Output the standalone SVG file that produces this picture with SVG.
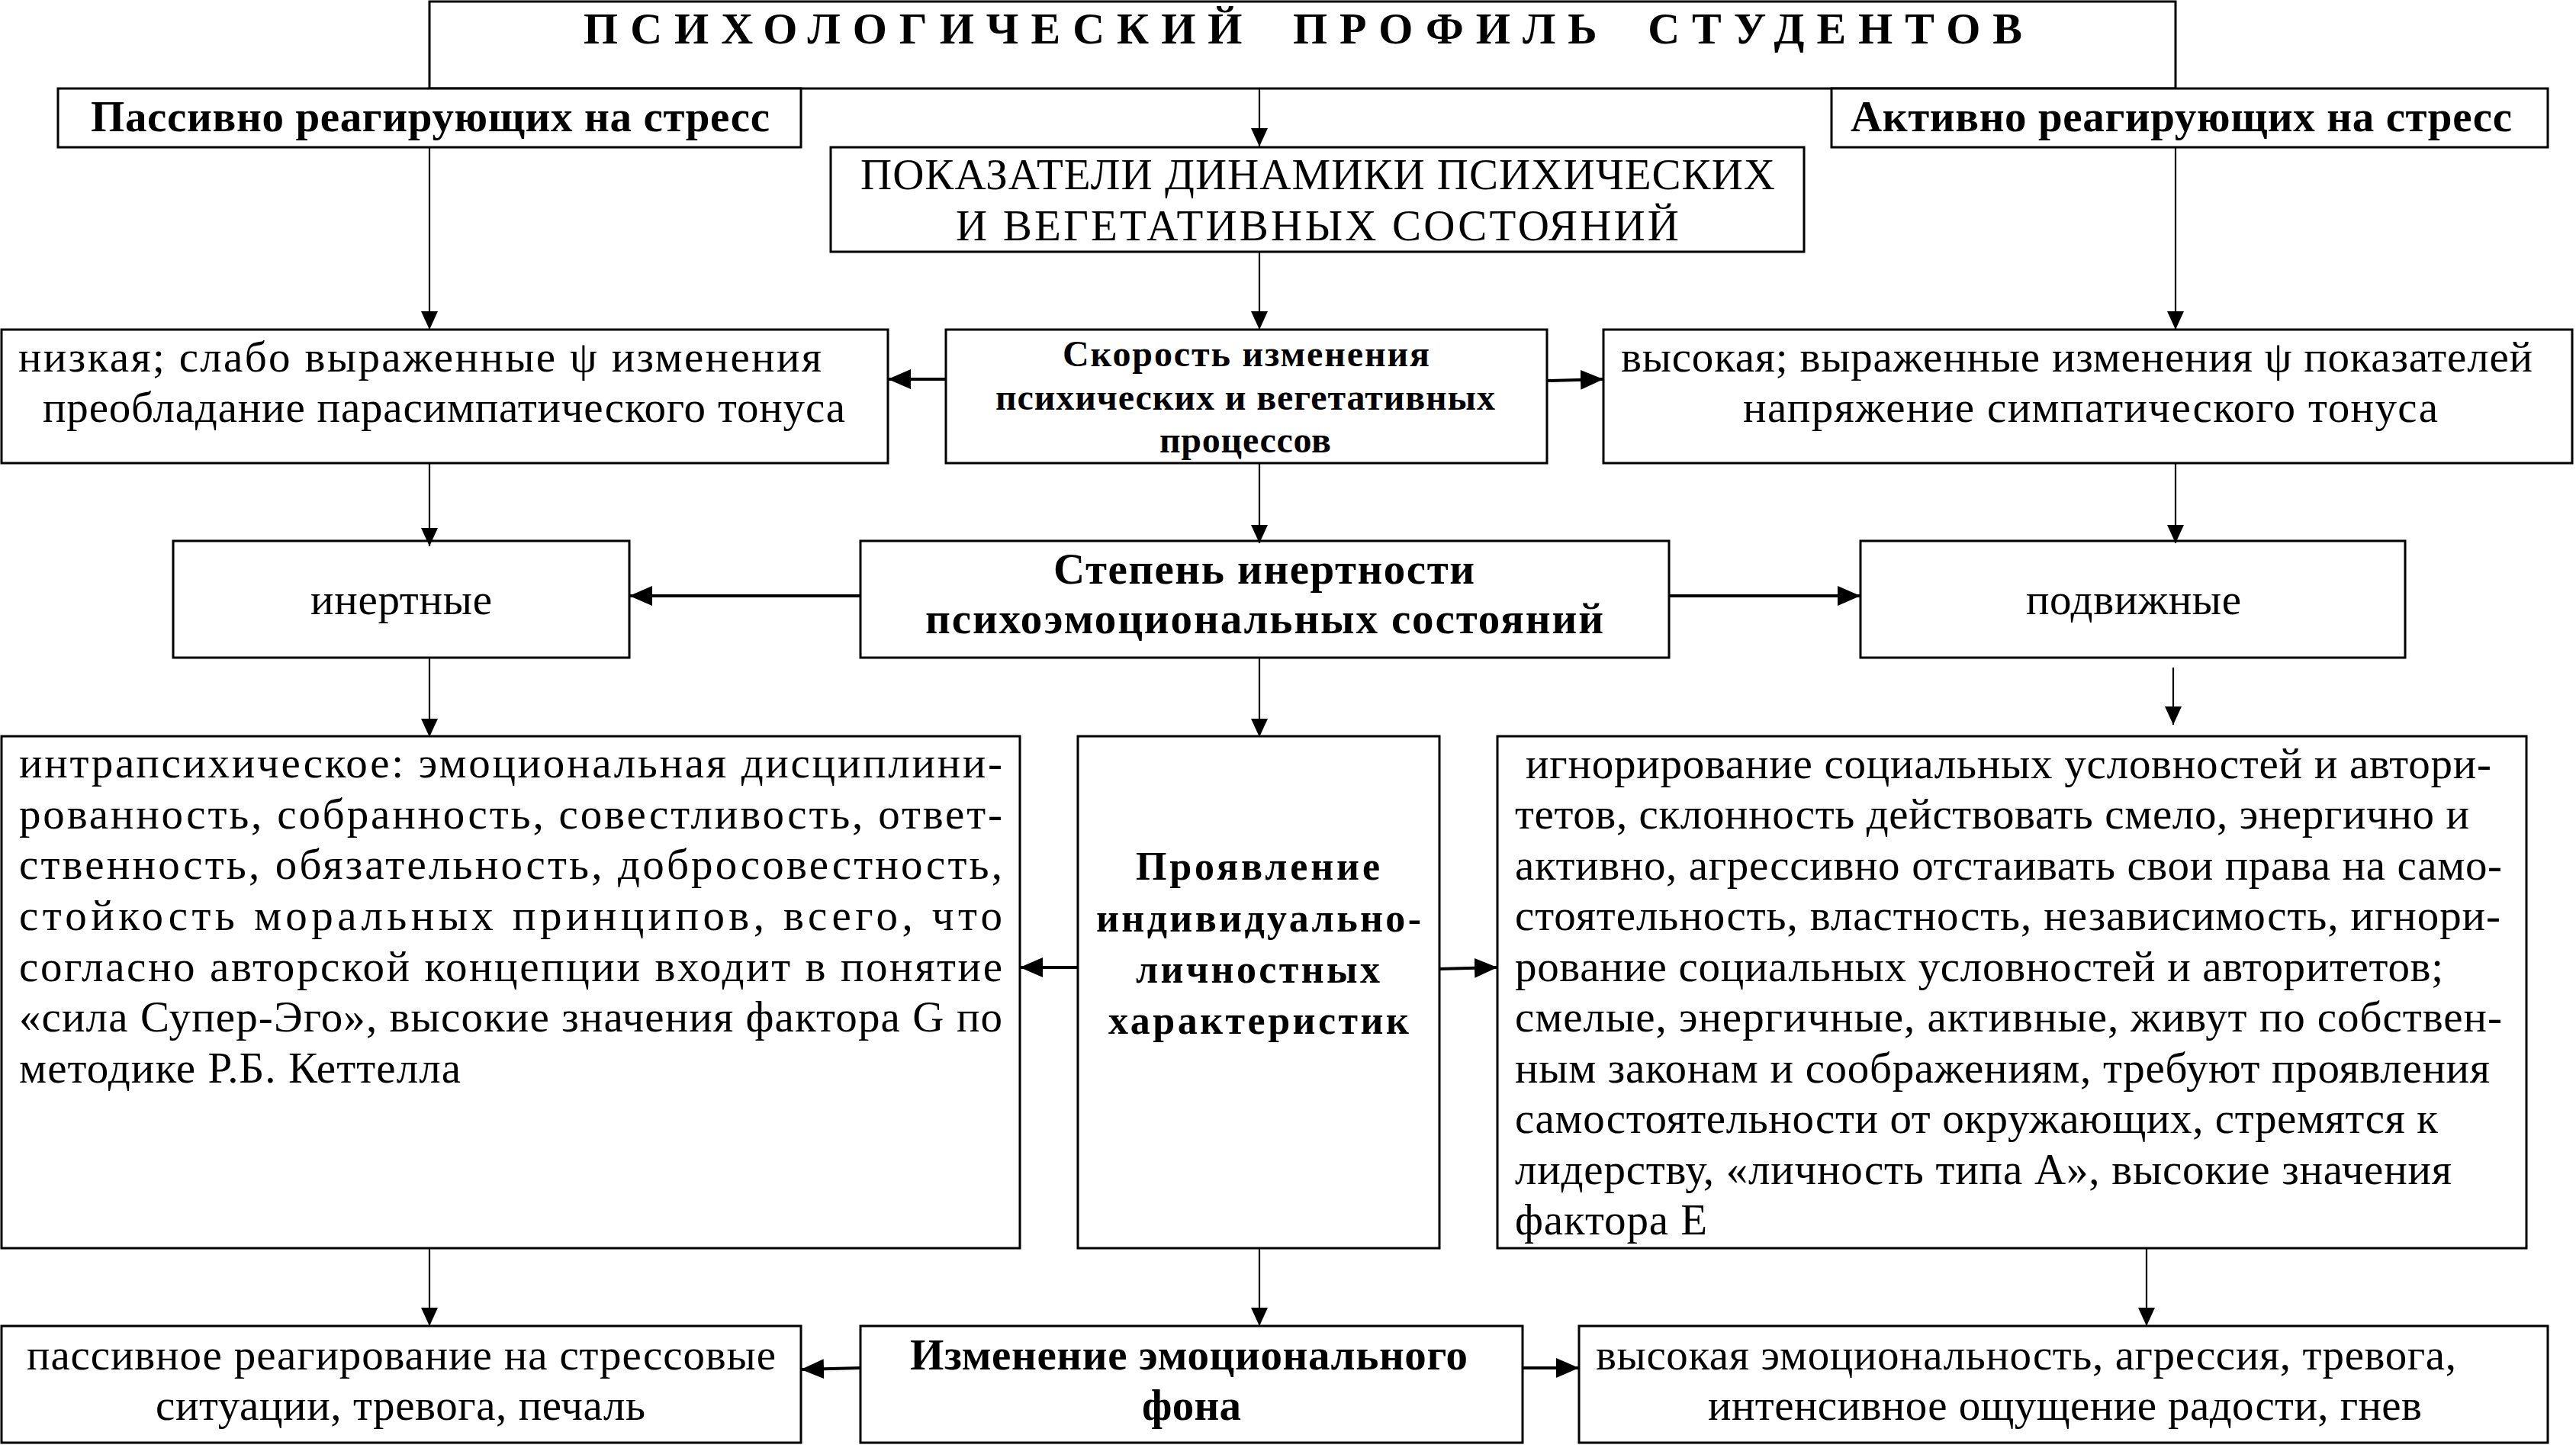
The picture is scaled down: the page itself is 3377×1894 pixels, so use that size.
<svg xmlns="http://www.w3.org/2000/svg" width="3377" height="1894" viewBox="0 0 3377 1894">
<style>
.box{fill:#fff;stroke:#000;stroke-width:3}
text{font-family:"Liberation Serif","Times New Roman",serif;fill:#000}
.r{font-size:57px}
.b{font-size:57px;font-weight:bold}
.s{font-size:48px;font-weight:bold}
.m{font-size:52px;font-weight:bold}
.t{font-size:58px;font-weight:bold;word-spacing:20px}
.c{fill:none;stroke:#000;stroke-width:2.2}
.k{fill:none;stroke:#000;stroke-width:4}
</style>
<defs>
<marker id="ah" markerUnits="userSpaceOnUse" markerWidth="24" markerHeight="22" refX="24" refY="11" orient="auto"><path d="M0,0 L24,11 L0,22 z" fill="#000"/></marker>
<marker id="ahb" markerUnits="userSpaceOnUse" markerWidth="30" markerHeight="26" refX="30" refY="13" orient="auto"><path d="M0,0 L30,13 L0,26 z" fill="#000"/></marker>
</defs>
<rect width="3377" height="1894" fill="#fff"/>
<g id="title"><rect class="box" x="563" y="2" width="2289" height="114"/><text class="t" x="765" y="57" textLength="1886" lengthAdjust="spacing">ПСИХОЛОГИЧЕСКИЙ  ПРОФИЛЬ СТУДЕНТОВ</text></g>
<g id="passive"><rect class="box" x="76" y="116" width="974" height="77"/><text class="b" x="119" y="172" textLength="890" lengthAdjust="spacing">Пассивно реагирующих на стресс</text></g>
<g id="active"><rect class="box" x="2401" y="116" width="939" height="77"/><text class="b" x="2426" y="172" textLength="867" lengthAdjust="spacing">Активно реагирующих на стресс</text></g>
<g id="indicators"><rect class="box" x="1089" y="193" width="1276" height="137"/><text class="r" x="1128" y="248" textLength="1199" lengthAdjust="spacing">ПОКАЗАТЕЛИ ДИНАМИКИ ПСИХИЧЕСКИХ</text><text class="r" x="1253" y="315" textLength="948" lengthAdjust="spacing">И  ВЕГЕТАТИВНЫХ  СОСТОЯНИЙ</text></g>
<g id="low"><rect class="box" x="2" y="432" width="1162" height="175"/><text class="r" x="24" y="487" textLength="1053" lengthAdjust="spacing">низкая;  слабо  выраженные  ψ  изменения</text><text class="r" x="56" y="553" textLength="1052" lengthAdjust="spacing">преобладание парасимпатического тонуса</text></g>
<g id="speed"><rect class="box" x="1240" y="432" width="788" height="175"/><text class="s" x="1393" y="480" textLength="481" lengthAdjust="spacing">Скорость  изменения</text><text class="s" x="1305" y="537" textLength="655" lengthAdjust="spacing">психических и вегетативных</text><text class="s" x="1520" y="593" textLength="225" lengthAdjust="spacing">процессов</text></g>
<g id="high"><rect class="box" x="2102" y="432" width="1270" height="175"/><text class="r" x="2125" y="487" textLength="1195" lengthAdjust="spacing">высокая; выраженные изменения ψ показателей</text><text class="r" x="2285" y="553" textLength="911" lengthAdjust="spacing">напряжение  симпатического тонуса</text></g>
<g id="inert"><rect class="box" x="227" y="709" width="598" height="153"/><text class="r" x="407" y="805" textLength="238" lengthAdjust="spacing">инертные</text></g>
<g id="degree"><rect class="box" x="1128" y="709" width="1060" height="153"/><text class="b" x="1381" y="765" textLength="552" lengthAdjust="spacing">Степень  инертности</text><text class="b" x="1213" y="830" textLength="889" lengthAdjust="spacing">психоэмоциональных   состояний</text></g>
<g id="mobile"><rect class="box" x="2439" y="709" width="714" height="153"/><text class="r" x="2656" y="805" textLength="282" lengthAdjust="spacing">подвижные</text></g>
<g id="intra"><rect class="box" x="2" y="965" width="1335" height="671"/>
<text class="r" x="25" y="1019" textLength="1289" lengthAdjust="spacing">интрапсихическое:  эмоциональная  дисциплини-</text>
<text class="r" x="25" y="1086" textLength="1289" lengthAdjust="spacing">рованность,   собранность, совестливость, ответ-</text>
<text class="r" x="25" y="1152" textLength="1289" lengthAdjust="spacing">ственность,  обязательность,  добросовестность,</text>
<text class="r" x="25" y="1219" textLength="1289" lengthAdjust="spacing">стойкость  моральных  принципов,  всего,  что</text>
<text class="r" x="25" y="1286" textLength="1289" lengthAdjust="spacing">согласно  авторской  концепции  входит  в  понятие</text>
<text class="r" x="25" y="1352" textLength="1289" lengthAdjust="spacing">«сила Супер-Эго», высокие значения фактора G  по</text>
<text class="r" x="25" y="1419" textLength="579" lengthAdjust="spacing">методике Р.Б. Кеттелла</text></g>
<g id="manifest"><rect class="box" x="1413" y="965" width="474" height="671"/>
<text class="m" x="1489" y="1153" textLength="320" lengthAdjust="spacing">Проявление</text>
<text class="m" x="1437" y="1221" textLength="426" lengthAdjust="spacing">индивидуально-</text>
<text class="m" x="1489" y="1288" textLength="320" lengthAdjust="spacing">личностных</text>
<text class="m" x="1453" y="1355" textLength="394" lengthAdjust="spacing">характеристик</text></g>
<g id="ignore"><rect class="box" x="1963" y="965" width="1349" height="671"/>
<text class="r" x="2000" y="1020" textLength="1266" lengthAdjust="spacing">игнорирование социальных условностей и автори-</text>
<text class="r" x="1986" y="1086" textLength="1251" lengthAdjust="spacing">тетов, склонность действовать смело, энергично и</text>
<text class="r" x="1986" y="1153" textLength="1294" lengthAdjust="spacing">активно, агрессивно отстаивать свои права на само-</text>
<text class="r" x="1986" y="1219" textLength="1292" lengthAdjust="spacing">стоятельность, властность,  независимость, игнори-</text>
<text class="r" x="1986" y="1286" textLength="1217" lengthAdjust="spacing">рование социальных условностей и авторитетов;</text>
<text class="r" x="1986" y="1352" textLength="1294" lengthAdjust="spacing">смелые, энергичные, активные, живут по  собствен-</text>
<text class="r" x="1986" y="1419" textLength="1278" lengthAdjust="spacing">ным законам и соображениям, требуют проявления</text>
<text class="r" x="1986" y="1485" textLength="1210" lengthAdjust="spacing">самостоятельности от окружающих, стремятся к</text>
<text class="r" x="1986" y="1552" textLength="1228" lengthAdjust="spacing">лидерству, «личность типа А», высокие значения</text>
<text class="r" x="1986" y="1618" textLength="252" lengthAdjust="spacing">фактора Е</text></g>
<g id="passiveReact"><rect class="box" x="2" y="1738" width="1048" height="153"/><text class="r" x="35" y="1795" textLength="982" lengthAdjust="spacing">пассивное реагирование на  стрессовые</text><text class="r" x="204" y="1861" textLength="642" lengthAdjust="spacing">ситуации, тревога, печаль</text></g>
<g id="emoChange"><rect class="box" x="1128" y="1738" width="868" height="153"/><text class="b" x="1193" y="1795" textLength="731" lengthAdjust="spacing">Изменение эмоционального</text><text class="b" x="1497" y="1861" textLength="130" lengthAdjust="spacing">фона</text></g>
<g id="highEmo"><rect class="box" x="2070" y="1738" width="1270" height="153"/><text class="r" x="2092" y="1795" textLength="1128" lengthAdjust="spacing">высокая эмоциональность, агрессия, тревога,</text><text class="r" x="2239" y="1861" textLength="936" lengthAdjust="spacing">интенсивное ощущение радости, гнев</text></g>
<g id="connectors">
<path class="c" d="M1651,116 V192" marker-end="url(#ah)"/>
<path class="c" d="M563,193 V432" marker-end="url(#ah)"/>
<path class="c" d="M2852,193 V432" marker-end="url(#ah)"/>
<path class="c" d="M1651,330 V432" marker-end="url(#ah)"/>
<path class="k" d="M1240,497 H1164" marker-end="url(#ahb)"/>
<path class="k" d="M2028,499 L2102,497" marker-end="url(#ahb)"/>
<path class="c" d="M563,607 V716" marker-end="url(#ah)"/>
<path class="c" d="M1651,607 V712" marker-end="url(#ah)"/>
<path class="c" d="M2852,607 V712" marker-end="url(#ah)"/>
<path class="k" d="M1128,781 H825" marker-end="url(#ahb)"/>
<path class="k" d="M2188,781 H2439" marker-end="url(#ahb)"/>
<path class="c" d="M563,862 V966" marker-end="url(#ah)"/>
<path class="c" d="M1651,862 V966" marker-end="url(#ah)"/>
<path class="c" d="M2849,875 V950" marker-end="url(#ah)"/>
<path class="k" d="M1413,1268 H1337" marker-end="url(#ahb)"/>
<path class="k" d="M1887,1270 L1963,1268" marker-end="url(#ahb)"/>
<path class="c" d="M563,1636 V1738" marker-end="url(#ah)"/>
<path class="c" d="M1651,1636 V1738" marker-end="url(#ah)"/>
<path class="c" d="M2814,1636 V1738" marker-end="url(#ah)"/>
<path class="k" d="M1128,1793 L1050,1795" marker-end="url(#ahb)"/>
<path class="k" d="M1996,1793 H2070" marker-end="url(#ahb)"/>
</g>
</svg>
